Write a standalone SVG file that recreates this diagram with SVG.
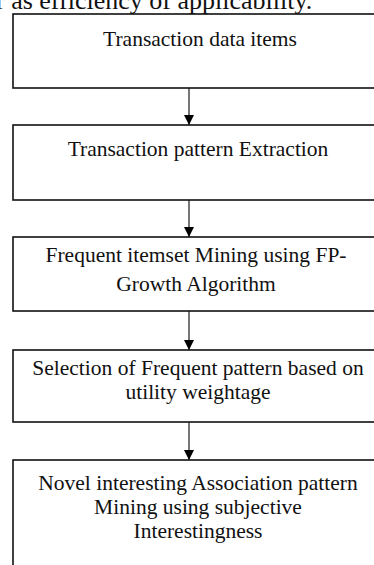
<svg xmlns="http://www.w3.org/2000/svg" width="374" height="565" viewBox="0 0 374 565">
  <defs>
    <marker id="head" viewBox="0 0 10 10" refX="10" refY="5" markerWidth="10" markerHeight="10" markerUnits="userSpaceOnUse" orient="auto">
      <path d="M0,0 L10,5 L0,10 Z" fill="#000"/>
    </marker>
    <style>
      .box { fill: #fff; stroke: #111; stroke-width: 1.6; }
      .lbl { font-family: "Liberation Serif", "Times New Roman", serif; font-size: 21.5px; fill: #111; text-anchor: middle; }
      .body { font-family: "Liberation Serif", "Times New Roman", serif; font-size: 26px; fill: #111; }
      .arrow { stroke: #777; stroke-width: 2; fill: none; marker-end: url(#head); }
    </style>
  </defs>
  <rect width="374" height="565" fill="#fff"/>

  <!-- tail of the preceding paragraph -->
  <text class="body" x="-4" y="9">r as efficiency of applicability.</text>

  <g id="connectors">
    <line class="arrow" x1="189" y1="88" x2="189" y2="125"/>
    <line class="arrow" x1="189" y1="200" x2="189" y2="237"/>
    <line class="arrow" x1="189" y1="311" x2="189" y2="350"/>
    <line class="arrow" x1="189" y1="422" x2="189" y2="460"/>
  </g>

  <g id="n1">
    <rect class="box" x="13" y="14" width="372" height="74"/>
    <text class="lbl" x="200" y="46">Transaction data items</text>
  </g>

  <g id="n2">
    <rect class="box" x="13" y="125" width="372" height="75"/>
    <text class="lbl" x="198" y="156">Transaction pattern Extraction</text>
  </g>

  <g id="n3">
    <rect class="box" x="13" y="237" width="372" height="74"/>
    <text class="lbl" x="196" y="262">Frequent itemset Mining using FP-</text>
    <text class="lbl" x="196" y="291">Growth Algorithm</text>
  </g>

  <g id="n4">
    <rect class="box" x="13" y="350" width="372" height="72"/>
    <text class="lbl" x="198" y="375">Selection of Frequent pattern based on</text>
    <text class="lbl" x="198" y="399">utility weightage</text>
  </g>

  <g id="n5">
    <rect class="box" x="13" y="460" width="372" height="120"/>
    <text class="lbl" x="198" y="490">Novel interesting Association pattern</text>
    <text class="lbl" x="198" y="514">Mining using subjective</text>
    <text class="lbl" x="198" y="538">Interestingness</text>
  </g>
</svg>
